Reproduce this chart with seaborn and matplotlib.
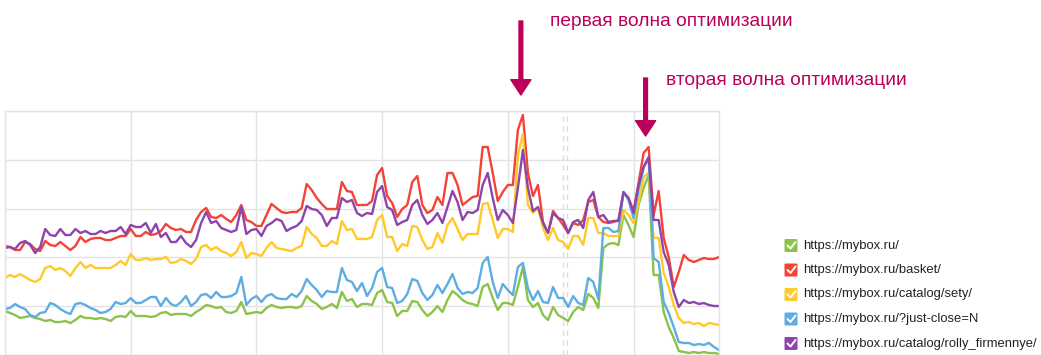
import pandas as pd
import seaborn as sns
import matplotlib.pyplot as plt
from matplotlib.patches import FancyBboxPatch
from matplotlib.lines import Line2D

# --- данные ---
urls = ['https://mybox.ru/', 'https://mybox.ru/basket/', 'https://mybox.ru/catalog/sety/',
        'https://mybox.ru/?just-close=N', 'https://mybox.ru/catalog/rolly_firmennye/']
colors = ['#8bc34a', '#f44336', '#ffca28', '#5dade2', '#8e44ad']

days = list(range(143))

main_page = [44, 42, 40, 37, 38, 39, 37, 36, 34, 35, 33, 33, 34, 32, 35, 39, 37, 37, 36, 37,
             36, 34, 38, 39, 38, 44, 39, 39, 39, 38, 39, 42, 43, 40, 41, 41, 41, 39, 43, 46,
             50, 49, 47, 48, 43, 42, 44, 53, 41, 42, 43, 42, 47, 50, 48, 47, 48, 48, 47, 49, 59,
             54, 51, 46, 48, 51, 47, 63, 54, 56, 48, 51, 51, 50, 62, 65, 53, 52, 39, 44, 44,
             54, 53, 45, 39, 43, 49, 43, 55, 64, 60, 55, 52, 51, 49, 68, 71, 57, 45, 52, 52,
             50, 68, 88, 55, 48, 52, 40, 35, 48, 40, 37, 34, 43, 48, 45, 61, 57, 47, 107, 111, 112,
             110, 140, 130, 118, 150, 167, 180, 80, 80, 43, 28, 17, 4, 3, 2, 3, 2, 3, 2, 2, 1]
basket = [109, 108, 105, 105, 113, 111, 106, 104, 114, 110, 109, 113, 109, 105, 109, 118, 113, 116, 117, 117,
          115, 115, 117, 119, 119, 126, 119, 119, 123, 120, 121, 124, 131, 127, 125, 126, 123, 123, 135, 143,
          147, 138, 137, 140, 136, 133, 140, 150, 135, 133, 129, 129, 140, 151, 147, 143, 142, 143, 143, 147, 171,
          165, 157, 151, 146, 146, 146, 173, 164, 163, 150, 150, 150, 154, 180, 187, 159, 152, 138, 146, 150,
          173, 179, 150, 142, 145, 158, 150, 182, 182, 170, 150, 154, 158, 159, 208, 208, 182, 154, 163, 170,
          170, 225, 240, 182, 159, 170, 133, 122, 144, 137, 130, 122, 132, 130, 135, 153, 155, 138, 133, 132, 133,
          135, 162, 157, 144, 172, 202, 208, 140, 164, 117, 98, 68, 83, 100, 95, 93, 95, 97, 96, 96, 98]
sety = [77, 80, 78, 81, 78, 75, 73, 76, 87, 89, 85, 87, 84, 79, 87, 93, 87, 90, 87, 87,
        87, 87, 90, 94, 90, 101, 95, 95, 97, 95, 96, 96, 98, 92, 93, 96, 94, 91, 96, 108,
        110, 105, 108, 104, 102, 99, 103, 113, 97, 102, 101, 99, 107, 113, 107, 106, 105, 104, 107, 109, 128,
        121, 117, 109, 109, 114, 111, 134, 125, 126, 116, 116, 116, 118, 135, 140, 118, 118, 104, 111, 109,
        129, 128, 115, 106, 108, 122, 112, 130, 137, 126, 115, 121, 121, 121, 151, 152, 135, 117, 126, 126,
        123, 200, 221, 150, 142, 147, 127, 115, 127, 115, 113, 106, 119, 119, 110, 137, 137, 122, 122, 119, 119,
        119, 145, 140, 132, 153, 178, 182, 117, 117, 82, 68, 50, 37, 32, 33, 31, 32, 29, 32, 31, 30]
just_close = [46, 47, 51, 48, 46, 40, 38, 42, 43, 52, 50, 46, 43, 41, 51, 52, 50, 47, 45, 42,
              43, 46, 53, 51, 52, 57, 52, 52, 55, 58, 58, 49, 57, 51, 49, 53, 59, 49, 53, 60,
              61, 57, 63, 58, 58, 59, 62, 78, 50, 56, 59, 53, 59, 61, 57, 56, 56, 61, 58, 64, 76,
              70, 65, 58, 64, 63, 63, 87, 75, 73, 64, 72, 59, 67, 83, 87, 68, 67, 52, 54, 61,
              76, 74, 62, 55, 60, 70, 62, 71, 81, 67, 61, 63, 62, 67, 92, 98, 73, 57, 71, 65,
              60, 88, 92, 67, 55, 64, 53, 52, 68, 57, 57, 48, 59, 52, 50, 77, 73, 56, 127, 127, 123,
              124, 163, 155, 137, 165, 187, 197, 97, 93, 53, 42, 28, 13, 12, 12, 10, 11, 10, 12, 8, 5]
rolly = [107, 108, 106, 112, 114, 110, 102, 108, 126, 120, 119, 126, 120, 120, 126, 122, 124, 121, 121, 124,
         122, 124, 124, 128, 121, 130, 128, 128, 132, 122, 131, 118, 122, 113, 113, 119, 112, 108, 115, 132,
         143, 132, 134, 127, 125, 123, 125, 148, 121, 125, 126, 119, 129, 132, 136, 134, 124, 127, 129, 134, 149,
         146, 145, 140, 129, 137, 137, 157, 153, 155, 142, 139, 142, 141, 163, 169, 148, 145, 130, 133, 135,
         150, 155, 140, 131, 135, 142, 132, 148, 164, 153, 135, 143, 142, 145, 170, 182, 157, 135, 145, 140,
         132, 167, 205, 167, 144, 148, 132, 122, 142, 137, 135, 122, 133, 135, 127, 155, 163, 138, 140, 133, 134,
         134, 163, 157, 142, 170, 188, 198, 135, 135, 103, 90, 63, 48, 55, 52, 53, 51, 52, 50, 49, 49]

# отметки на графике
marker_days = [111, 111.8]
wave_days = [102.6, 127.4]
wave_labels = ['первая волна оптимизации', 'вторая волна оптимизации']

series = [main_page, basket, sety, just_close, rolly]
df = pd.DataFrame({
    'day': days * len(urls),
    'value': [v for s in series for v in s],
    'url': [u for u in urls for _ in days],
})

sns.set_style('white')
plt.rcParams['font.family'] = ['Liberation Sans', 'DejaVu Sans']

fig = plt.figure(figsize=(10.41, 3.55), dpi=100)
W, H = 1041, 355
ax = fig.add_axes([5 / W, 0, 714 / W, 244 / H])

sns.lineplot(data=df, x='day', y='value', hue='url', hue_order=urls, palette=colors,
             linewidth=1.7, errorbar=None, legend=False, ax=ax)

ax.set_xlim(0, 142)
ax.set_ylim(0, 244)
ax.set_xticks([0, 25, 50, 75, 100, 125])
ax.set_yticks([0, 48.8, 97.6, 146.4, 195.2, 244])
ax.set_xticklabels([])
ax.set_yticklabels([])
ax.tick_params(length=0)
ax.set_xlabel('')
ax.set_ylabel('')
ax.grid(True, color='#e3e3e3', linewidth=1)
ax.set_axisbelow(True)
for sp in ax.spines.values():
    sp.set_color('#e3e3e3')
    sp.set_linewidth(1)

for d in marker_days:
    ax.axvline(d, color='#dcdcdc', linestyle=(0, (4, 3)), linewidth=1, zorder=0)

# стрелки и подписи волн оптимизации
ann_color = '#ba0058'
arrow_style = 'simple,head_width=1.45,head_length=1.1,tail_width=0.27'
ax.annotate('', xy=(wave_days[0], 260), xytext=(wave_days[0], 334), annotation_clip=False,
            arrowprops=dict(arrowstyle=arrow_style, color=ann_color, mutation_scale=10,
                            shrinkA=0, shrinkB=0))
ax.annotate('', xy=(wave_days[1], 219), xytext=(wave_days[1], 277), annotation_clip=False,
            arrowprops=dict(arrowstyle=arrow_style, color=ann_color, mutation_scale=10,
                            shrinkA=0, shrinkB=0))
fig.text(550 / W, (H - 26) / H, wave_labels[0], color=ann_color, fontsize=13.8, va='baseline')
fig.text(666.5 / W, (H - 85) / H, wave_labels[1], color=ann_color, fontsize=13.8, va='baseline')

# легенда с "чекбоксами"
rows_y = [245.5, 270, 294.5, 319, 343.5]
for url, col, yy in zip(urls, colors, rows_y):
    box = FancyBboxPatch(((784.5) / W, (H - yy - 6.5) / H), 13 / W, 13 / H,
                         boxstyle='round,pad=0,rounding_size=0.002', transform=fig.transFigure,
                         facecolor=col, edgecolor='none')
    fig.patches.append(box)
    fig.lines.append(Line2D([787.5 / W, 790.5 / W, 795.5 / W],
                            [(H - yy) / H, (H - yy - 3) / H, (H - yy + 3.5) / H],
                            transform=fig.transFigure, color='white', linewidth=1.4))
    fig.text(803 / W, (H - yy) / H, url, fontsize=9.4, color='#222222', va='center')

plt.savefig('out.png', dpi=100)
plt.close()
